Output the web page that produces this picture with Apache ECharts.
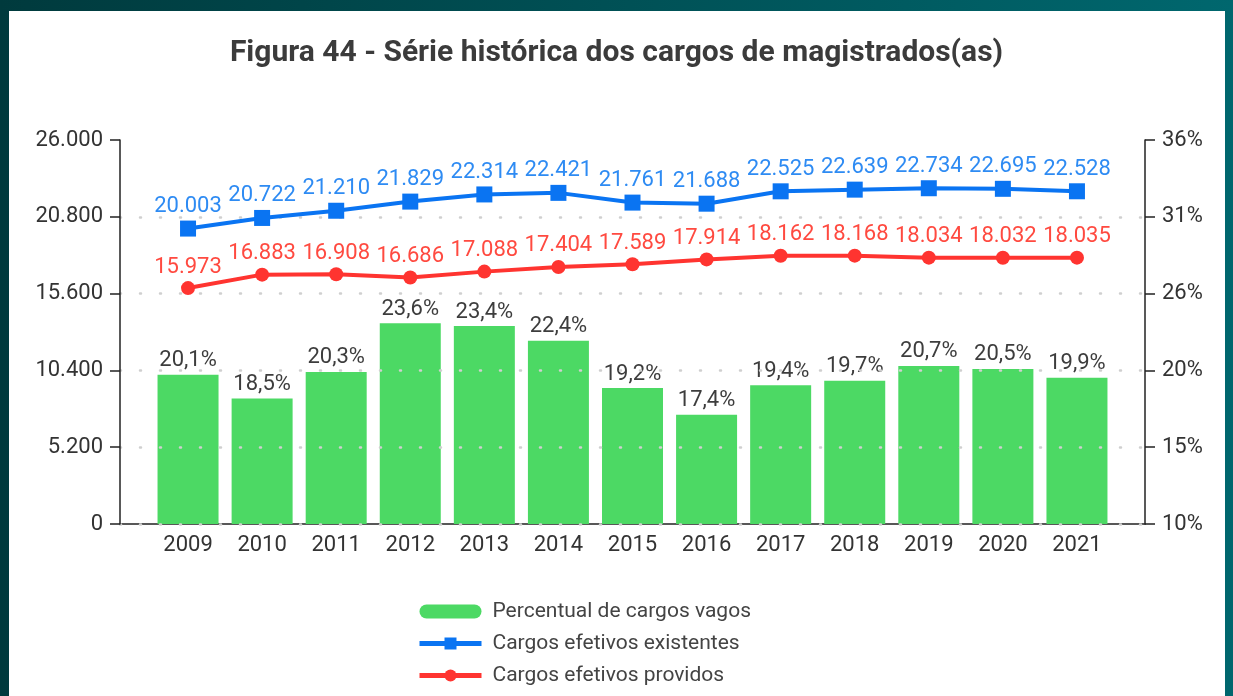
<!DOCTYPE html>
<html>
<head>
<meta charset="utf-8">
<script src="https://cdn.jsdelivr.net/npm/echarts@6/dist/echarts.min.js"></script>
<style>
  html, body { margin: 0; padding: 0; }
  body { width: 1233px; height: 696px; background: linear-gradient(90deg, #003a3d, #00676e); position: relative; overflow: hidden; }
  #panel { position: absolute; left: 9px; top: 11px; right: 8px; bottom: 0; background: #fff; }
  #main { position: absolute; left: 0; top: 0; width: 1233px; height: 696px; }
</style>
</head>
<body>
<div id="panel"></div>
<div id="main"></div>
<script>
// dados
var anos = ['2009', '2010', '2011', '2012', '2013', '2014', '2015', '2016', '2017', '2018', '2019', '2020', '2021'];
var percVagos = [20.1, 18.5, 20.3, 23.6, 23.4, 22.4, 19.2, 17.4, 19.4, 19.7, 20.7, 20.5, 19.9];
var existentes = [20003, 20722, 21210, 21829, 22314, 22421, 21761, 21688, 22525, 22639, 22734, 22695, 22528];
var providos = [15973, 16883, 16908, 16686, 17088, 17404, 17589, 17914, 18162, 18168, 18034, 18032, 18035];
var nomes = ['Percentual de cargos vagos', 'Cargos efetivos existentes', 'Cargos efetivos providos'];

var fonte = 'Roboto, "Noto Sans", sans-serif';

function milhar(v) {
  return String(Math.round(v)).replace(/\B(?=(\d{3})+(?!\d))/g, '.');
}

var chart = echarts.init(document.getElementById('main'));

var option = {
  backgroundColor: 'transparent',
  textStyle: { fontFamily: fonte },
  title: {
    text: 'Figura 44 - Série histórica dos cargos de magistrados(as)',
    left: 'center',
    top: 33,
    textStyle: { fontSize: 30, fontWeight: 'bold', color: '#3b3b3b', fontFamily: fonte }
  },
  legend: {
    orient: 'vertical',
    left: 412,
    top: 596,
    itemWidth: 62,
    itemHeight: 15,
    itemGap: 11,
    textStyle: { fontSize: 21, color: '#444', padding: [0, 0, 0, 6] },
    data: [
      { name: nomes[0], icon: 'path://M7,0 L55,0 A7,7 0 0 1 55,14 L7,14 A7,7 0 0 1 7,0 Z' },
      { name: nomes[1], lineStyle: { width: 5 } },
      { name: nomes[2], lineStyle: { width: 5 } }
    ]
  },
  grid: [
    { left: 120, right: 88, top: 140, bottom: 172 },
    { left: 151, right: 119, top: 140, bottom: 172 }
  ],
  xAxis: [
    {
      gridIndex: 0, type: 'value', min: 0, max: 1,
      axisLine: { show: true, lineStyle: { color: '#222', width: 1.5 } },
      axisTick: { show: false }, axisLabel: { show: false }, splitLine: { show: false }
    },
    {
      gridIndex: 1, type: 'category', data: anos,
      axisLine: { show: false }, axisTick: { show: false },
      axisLabel: { fontSize: 22, color: '#333', margin: 10 }
    }
  ],
  yAxis: [
    {
      gridIndex: 0, type: 'value', position: 'left', min: 0, max: 26000, interval: 5200, z: 3,
      axisLine: { show: true, lineStyle: { color: '#222', width: 1.5 } },
      axisTick: { show: true, inside: false, length: 10, lineStyle: { color: '#222', width: 1.5 } },
      axisLabel: { fontSize: 22, color: '#333', margin: 17, formatter: milhar },
      splitLine: { show: true, showMaxLine: false, lineStyle: { color: '#cfcfcf', width: 2.5, type: [1, 19], cap: 'round' } }
    },
    {
      gridIndex: 0, type: 'value', position: 'right', min: 10, max: 36, interval: 5.2,
      axisLine: { show: true, lineStyle: { color: '#222', width: 1.5 } },
      axisTick: { show: true, inside: false, length: 10, lineStyle: { color: '#222', width: 1.5 } },
      axisLabel: { fontSize: 22, color: '#333', margin: 17, formatter: function (v) { return Math.round(v) + '%'; } },
      splitLine: { show: false }
    },
    { gridIndex: 1, type: 'value', min: 0, max: 26000, show: false },
    { gridIndex: 1, type: 'value', min: 10, max: 36, show: false }
  ],
  series: [
    {
      name: nomes[0], type: 'bar', xAxisIndex: 1, yAxisIndex: 3,
      data: percVagos, barWidth: 61,
      itemStyle: { color: '#4cd964' },
      label: {
        show: true, position: 'top', distance: 3, fontSize: 22, color: '#3d3d3d',
        formatter: function (p) { return p.value.toFixed(1).replace('.', ',') + '%'; }
      }
    },
    {
      name: nomes[1], type: 'line', xAxisIndex: 1, yAxisIndex: 2,
      data: existentes, symbol: 'rect', symbolSize: 16, z: 4,
      lineStyle: { color: '#0a74f2', width: 4 },
      itemStyle: { color: '#0a74f2' },
      label: { show: true, position: 'top', distance: 3, fontSize: 22, color: '#2e8bf3', formatter: function (p) { return milhar(p.value); } }
    },
    {
      name: nomes[2], type: 'line', xAxisIndex: 1, yAxisIndex: 2,
      data: providos, symbol: 'circle', symbolSize: 14, z: 4,
      lineStyle: { color: '#ff3430', width: 4 },
      itemStyle: { color: '#ff3430' },
      label: { show: true, position: 'top', distance: 3, fontSize: 22, color: '#ff4a40', formatter: function (p) { return milhar(p.value); } }
    }
  ]
};

chart.setOption(option);
</script>
</body>
</html>
